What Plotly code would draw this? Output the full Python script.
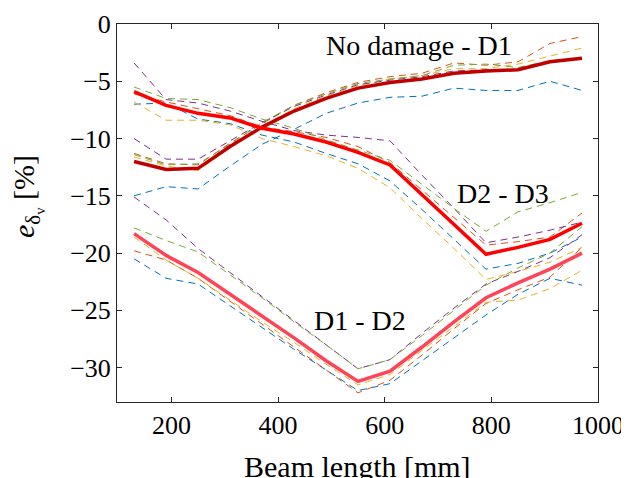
import plotly.graph_objects as go

x = [130, 190, 250, 310, 370, 430, 490, 550, 610, 670, 730, 790, 850, 910, 970]

# No damage - D1
nd_mean = [-12.0, -12.7, -12.6, -10.7, -9.0, -7.6, -6.5, -5.6, -5.1, -4.8, -4.3, -4.1, -4.0, -3.3, -3.0]
nd_blue = [-15.0, -14.2, -14.4, -12.4, -10.5, -9.2, -7.8, -6.9, -6.4, -6.3, -5.6, -5.8, -5.8, -5.0, -5.8]
nd_orange = [-11.3, -12.2, -12.3, -10.4, -8.7, -7.1, -6.0, -5.1, -4.6, -4.3, -3.4, -3.6, -3.3, -1.7, -1.1]
nd_yellow = [-11.6, -12.4, -12.8, -10.8, -8.9, -7.4, -6.3, -5.4, -4.8, -4.5, -3.9, -3.9, -3.5, -2.8, -2.1]
nd_purple = [-10.0, -11.8, -11.8, -10.2, -8.6, -7.2, -6.2, -5.3, -4.9, -4.6, -4.1, -4.0, -4.0, -3.3, -3.0]
nd_green = [-11.4, -12.3, -12.2, -10.5, -8.6, -7.1, -6.1, -5.2, -4.8, -4.5, -3.6, -3.5, -3.8, -3.2, -3.0]

# D2 - D3
d23_mean = [-5.9, -7.1, -7.8, -8.2, -9.1, -9.6, -10.3, -11.2, -12.3, -14.9, -17.5, -20.1, -19.5, -18.8, -17.4]
d23_blue = [-7.0, -6.9, -8.3, -8.7, -9.7, -10.3, -11.3, -12.2, -13.7, -16.2, -18.8, -21.4, -20.9, -20.0, -18.6]
d23_orange = [-6.1, -6.8, -7.4, -8.0, -9.0, -9.4, -9.9, -10.7, -12.1, -14.5, -16.9, -19.3, -19.0, -18.6, -16.5]
d23_yellow = [-6.8, -8.4, -8.4, -8.8, -10.0, -10.7, -11.5, -12.6, -14.3, -17.0, -19.6, -22.3, -21.6, -20.8, -19.5]
d23_purple = [-3.4, -6.6, -6.9, -7.6, -8.5, -9.3, -9.7, -9.9, -10.2, -13.2, -16.1, -19.1, -18.6, -18.0, -17.3]
d23_green = [-5.5, -6.5, -6.6, -7.3, -8.3, -9.1, -10.1, -11.0, -11.9, -14.0, -16.1, -18.1, -16.4, -15.6, -14.7]

# D1 - D2
d12_mean = [-18.3, -20.2, -21.7, -23.6, -25.5, -27.4, -29.4, -31.2, -30.3, -28.2, -26.0, -23.9, -22.6, -21.4, -20.0]
d12_blue = [-20.5, -22.2, -22.7, -24.6, -26.5, -28.4, -30.2, -32.0, -31.4, -29.4, -27.4, -25.4, -23.6, -22.2, -22.8]
d12_orange = [-19.8, -20.6, -22.2, -24.2, -26.2, -28.2, -30.2, -32.2, -31.1, -28.9, -26.6, -24.4, -23.2, -22.1, -19.5]
d12_yellow = [-18.6, -20.6, -22.2, -24.1, -26.0, -27.8, -29.7, -31.5, -30.6, -28.5, -26.4, -24.3, -24.1, -23.1, -21.5]
d12_purple = [-15.1, -17.1, -19.6, -21.7, -23.8, -25.9, -28.0, -30.1, -29.3, -27.0, -24.8, -22.7, -21.6, -20.4, -18.4]
d12_green = [-17.8, -18.9, -19.9, -21.9, -23.9, -26.0, -28.0, -30.1, -29.3, -27.2, -25.0, -22.8, -21.3, -20.0, -17.7]

x_ticks = [200, 400, 600, 800, 1000]
y_ticks = [0, -5, -10, -15, -20, -25, -30]

x_title = "Beam length [mm]"
y_title = "<i>e</i><sub>δ<sub>v</sub></sub> [%]"

dash_colors = ["#0072BD", "#D95319", "#EDB120", "#7E2F8E", "#77AC30"]
groups = [
    ([nd_blue, nd_orange, nd_yellow, nd_purple, nd_green], nd_mean, "#C00000"),
    ([d23_blue, d23_orange, d23_yellow, d23_purple, d23_green], d23_mean, "#FF0000"),
    ([d12_blue, d12_orange, d12_yellow, d12_purple, d12_green], d12_mean, "#FF4458"),
]

FONT = "Liberation Serif"

fig = go.Figure()
for dashed, mean, mc in groups:
    for ys, c in zip(dashed, dash_colors):
        fig.add_trace(go.Scatter(x=x, y=ys, mode="lines",
                                 line=dict(color=c, width=1, dash="7px,5px"),
                                 hoverinfo="skip"))
for dashed, mean, mc in groups:
    fig.add_trace(go.Scatter(x=x, y=mean, mode="lines",
                             line=dict(color=mc, width=3.5)))

labels = [("No damage - D1", 665, -1.9), ("D2 - D3", 821, -14.8), ("D1 - D2", 553, -25.9)]
for t, lx, ly in labels:
    fig.add_annotation(x=lx, y=ly, text=t, showarrow=False,
                       font=dict(family=FONT, size=28, color="black"))

# axis titles as annotations
fig.add_annotation(xref="paper", yref="paper", x=0.5, y=0, xanchor="center", yanchor="top",
                   yshift=-46, text=x_title, showarrow=False,
                   font=dict(family=FONT, size=30, color="black"))
fig.add_annotation(xref="paper", yref="paper", x=0, y=0.5, xanchor="center", yanchor="middle",
                   xshift=-90, yshift=16, textangle=-90, text=y_title, showarrow=False,
                   font=dict(family=FONT, size=30, color="black"))

axcol = "#262626"
fig.update_layout(
    width=621, height=470,
    margin=dict(l=109, r=31, t=16, b=76),
    paper_bgcolor="white", plot_bgcolor="white",
    showlegend=False,
    font=dict(family=FONT, size=26, color="black"),
    xaxis=dict(range=[98, 1000], tickvals=x_ticks,
               ticks="inside", ticklen=5, tickcolor=axcol, showline=True,
               linecolor=axcol, linewidth=1, mirror="ticks", showgrid=False,
               zeroline=False, automargin=False),
    yaxis=dict(range=[-33, 0], tickvals=y_ticks,
               ticks="inside", ticklen=5, tickcolor=axcol, showline=True,
               linecolor=axcol, linewidth=1, mirror="ticks", showgrid=False,
               zeroline=False, automargin=False),
)

fig.write_html("out.html")
